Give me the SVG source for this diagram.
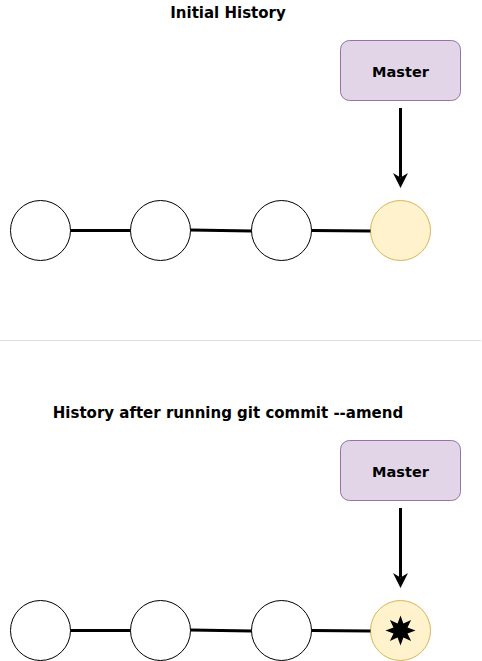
<svg xmlns="http://www.w3.org/2000/svg" width="482" height="661" viewBox="0 0 482 661">
<defs>
<style>
.t{font-family:"DejaVu Sans",Verdana,sans-serif;font-weight:bold;font-size:15px;fill:#000;text-anchor:middle}
.m{font-size:14.5px}
.box{fill:#e1d5e7;stroke:#9673a6;stroke-width:1}
.c{fill:#fff;stroke:#000;stroke-width:1}
.hc{fill:#fff2cc;stroke:#d6b656;stroke-width:1}
.ln{stroke:#000;stroke-width:3;fill:none}
.ar{stroke:#000;stroke-width:3;fill:none}
</style>
<marker id="ah" viewBox="0 0 10 10" refX="3" refY="5" markerWidth="15" markerHeight="15" markerUnits="userSpaceOnUse" orient="auto">
<path d="M0,0 L10,5 L0,10 L3,5 Z" fill="#000"/>
</marker>
</defs>
<rect width="482" height="661" fill="#fff"/>
<g id="title1"><text class="t" x="228" y="18">Initial History</text></g>
<g id="master1"><rect class="box" x="340.5" y="40.5" width="120" height="60" rx="9"/><text class="t m" x="400.5" y="76.5">Master</text></g>
<g id="c1"><circle class="c" cx="40.5" cy="230.5" r="30"/></g>
<g id="c2"><circle class="c" cx="160.5" cy="230.5" r="30"/></g>
<g id="c3"><circle class="c" cx="281.5" cy="230.5" r="30"/></g>
<g id="c4"><circle class="hc" cx="400.5" cy="230.5" r="30"/></g>
<g id="sep"><line x1="0" y1="340.5" x2="481" y2="340.5" stroke="#dddddd" stroke-width="1"/></g>
<g id="title2"><text class="t" x="228" y="418">History after running git commit --amend</text></g>
<g id="master2"><rect class="box" x="340.5" y="440.5" width="120" height="60" rx="9"/><text class="t m" x="400.5" y="476.5">Master</text></g>
<g id="d1"><circle class="c" cx="40.5" cy="630.5" r="30"/></g>
<g id="d2"><circle class="c" cx="160.5" cy="630.5" r="30"/></g>
<g id="d3"><circle class="c" cx="281.5" cy="630.5" r="30"/></g>
<g id="d4"><circle class="hc" cx="400.5" cy="630.5" r="30"/>
<polygon fill="#000" points="400.5,615.5 403.4,623.5 411.1,619.9 407.5,627.6 415.5,630.5 407.5,633.4 411.1,641.1 403.4,637.5 400.5,645.5 397.6,637.5 389.9,641.1 393.5,633.4 385.5,630.5 393.5,627.6 389.9,619.9 397.6,623.5"/></g>
<g id="connectors">
<line class="ln" x1="70.5" y1="230.5" x2="130.5" y2="230.5"/>
<line class="ln" x1="190.5" y1="230" x2="251.5" y2="231"/>
<line class="ln" x1="311.5" y1="230.5" x2="370.5" y2="231"/>
<line class="ar" x1="400.5" y1="108" x2="400.5" y2="177.5" marker-end="url(#ah)"/>
<line class="ln" x1="70.5" y1="630.5" x2="130.5" y2="630.5"/>
<line class="ln" x1="190.5" y1="630" x2="251.5" y2="631"/>
<line class="ln" x1="311.5" y1="630.5" x2="370.5" y2="631"/>
<line class="ar" x1="400.5" y1="508" x2="400.5" y2="577.5" marker-end="url(#ah)"/>
</g>
</svg>
